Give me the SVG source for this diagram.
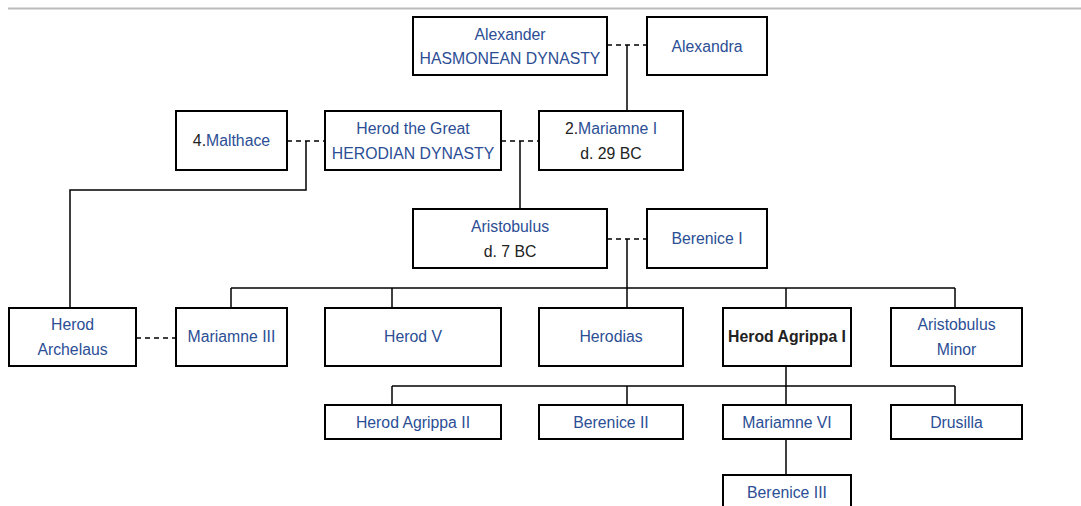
<svg xmlns="http://www.w3.org/2000/svg" width="1081" height="506" viewBox="0 0 1081 506">
<style>
.box{fill:#fff;stroke:#000;stroke-width:2}
.t{font-family:"Liberation Sans",Arial,sans-serif;font-size:15.8px;fill:#2b4e95;text-anchor:middle}
.k{fill:#222}
.b{font-weight:bold;fill:#222}
.c{fill:none;stroke:#000;stroke-width:1.5}
.d{fill:none;stroke:#000;stroke-width:1.5;stroke-dasharray:5 4}
</style>
<rect width="1081" height="506" fill="#fff"/>
<line x1="8" y1="8.5" x2="1081" y2="8.5" stroke="#bbb" stroke-width="2"/>
<g id="connectors">
<line class="d" x1="607" y1="45" x2="647" y2="45"/>
<line class="c" x1="627" y1="45" x2="627" y2="111"/>
<line class="d" x1="287" y1="141" x2="325" y2="141"/>
<polyline class="c" points="306,141 306,190 70,190 70,308"/>
<line class="d" x1="501" y1="141" x2="539" y2="141"/>
<line class="c" x1="520" y1="141" x2="520" y2="209"/>
<line class="d" x1="607" y1="239" x2="647" y2="239"/>
<line class="c" x1="627" y1="239" x2="627" y2="308"/>
<line class="c" x1="231" y1="288" x2="955" y2="288"/>
<line class="c" x1="231" y1="288" x2="231" y2="308"/>
<line class="c" x1="392" y1="288" x2="392" y2="308"/>
<line class="c" x1="786" y1="288" x2="786" y2="308"/>
<line class="c" x1="955" y1="288" x2="955" y2="308"/>
<line class="d" x1="136" y1="338" x2="176" y2="338"/>
<line class="c" x1="786" y1="366" x2="786" y2="405"/>
<line class="c" x1="392" y1="386" x2="955" y2="386"/>
<line class="c" x1="392" y1="386" x2="392" y2="405"/>
<line class="c" x1="627" y1="386" x2="627" y2="405"/>
<line class="c" x1="955" y1="386" x2="955" y2="405"/>
<line class="c" x1="786" y1="439" x2="786" y2="475"/>
</g>
<g id="alexander"><rect class="box" x="413" y="17" width="194" height="58"/><text class="t" x="510" y="39.5">Alexander</text><text class="t" x="510" y="63.5">HASMONEAN DYNASTY</text></g>
<g id="alexandra"><rect class="box" x="647" y="17" width="120" height="58"/><text class="t" x="707" y="51.5">Alexandra</text></g>
<g id="malthace"><rect class="box" x="176" y="111" width="111" height="59"/><text class="t" x="231.5" y="146"><tspan class="k">4.</tspan>Malthace</text></g>
<g id="herod-the-great"><rect class="box" x="325" y="111" width="176" height="59"/><text class="t" x="413" y="134">Herod the Great</text><text class="t" x="413" y="159">HERODIAN DYNASTY</text></g>
<g id="mariamne-i"><rect class="box" x="539" y="111" width="144" height="59"/><text class="t" x="611" y="134"><tspan class="k">2.</tspan>Mariamne I</text><text class="t k" x="611" y="159">d. 29 BC</text></g>
<g id="aristobulus"><rect class="box" x="413" y="209" width="194" height="59"/><text class="t" x="510" y="232">Aristobulus</text><text class="t k" x="510" y="257">d. 7 BC</text></g>
<g id="berenice-i"><rect class="box" x="647" y="209" width="120" height="59"/><text class="t" x="707" y="244">Berenice I</text></g>
<g id="herod-archelaus"><rect class="box" x="9" y="308" width="127" height="58"/><text class="t" x="72.5" y="330">Herod</text><text class="t" x="72.5" y="355">Archelaus</text></g>
<g id="mariamne-iii"><rect class="box" x="176" y="308" width="111" height="58"/><text class="t" x="231.5" y="342">Mariamne III</text></g>
<g id="herod-v"><rect class="box" x="325" y="308" width="176" height="58"/><text class="t" x="413" y="342">Herod V</text></g>
<g id="herodias"><rect class="box" x="539" y="308" width="144" height="58"/><text class="t" x="611" y="342">Herodias</text></g>
<g id="herod-agrippa-i"><rect class="box" x="723" y="308" width="128" height="58"/><text class="t b" x="787" y="342">Herod Agrippa I</text></g>
<g id="aristobulus-minor"><rect class="box" x="891" y="308" width="131" height="58"/><text class="t" x="956.5" y="330">Aristobulus</text><text class="t" x="956.5" y="355">Minor</text></g>
<g id="herod-agrippa-ii"><rect class="box" x="325" y="405" width="176" height="34"/><text class="t" x="413" y="427.5">Herod Agrippa II</text></g>
<g id="berenice-ii"><rect class="box" x="539" y="405" width="144" height="34"/><text class="t" x="611" y="427.5">Berenice II</text></g>
<g id="mariamne-vi"><rect class="box" x="723" y="405" width="128" height="34"/><text class="t" x="787" y="427.5">Mariamne VI</text></g>
<g id="drusilla"><rect class="box" x="891" y="405" width="131" height="34"/><text class="t" x="956.5" y="427.5">Drusilla</text></g>
<g id="berenice-iii"><rect class="box" x="723" y="475" width="128" height="45"/><text class="t" x="787" y="497.5">Berenice III</text></g>
</svg>
